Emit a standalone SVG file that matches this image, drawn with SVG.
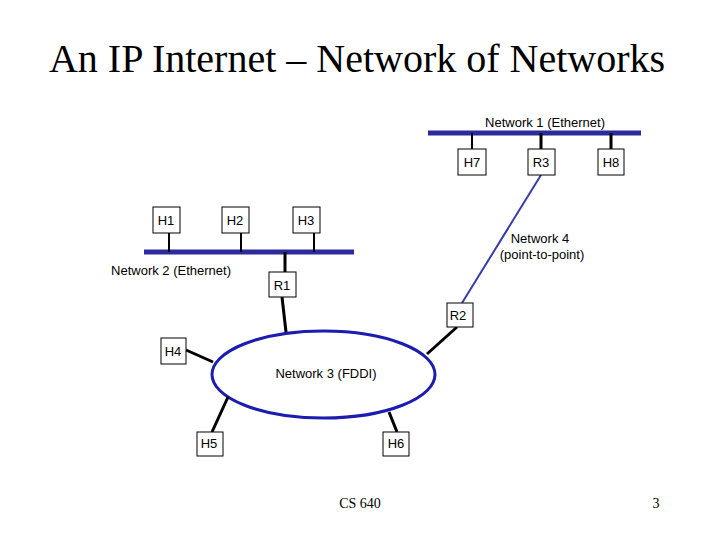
<svg xmlns="http://www.w3.org/2000/svg" width="720" height="540" viewBox="0 0 720 540">
<style>
.b{fill:#fff;stroke:#000;stroke-width:1}
.t{font-family:"Liberation Sans",Arial,sans-serif;font-size:13px;fill:#000;text-anchor:middle}
.k{stroke:#000;stroke-width:3}
.s{stroke:#000;stroke-width:2}
.n{stroke:#2b2b9c;stroke-width:5}
</style>
<rect width="720" height="540" fill="#fff"/>
<text x="357" y="72" font-family="Liberation Serif,serif" font-size="40" text-anchor="middle">An IP Internet – Network of Networks</text>
<g id="connectors">
<line class="n" x1="428" y1="133" x2="641" y2="133"/>
<line class="n" x1="144" y1="252" x2="354" y2="252"/>
<line x1="541" y1="175" x2="462" y2="303" stroke="#3a3aa8" stroke-width="2"/>
<ellipse cx="323.5" cy="374.5" rx="111.5" ry="43.5" fill="#fff" stroke="#1c1cb0" stroke-width="3"/>
<line class="s" x1="472" y1="133" x2="472" y2="149"/>
<line class="k" x1="541" y1="133" x2="541" y2="149"/>
<line class="k" x1="611" y1="133" x2="611" y2="149"/>
<line class="s" x1="169" y1="233" x2="169" y2="252"/>
<line class="s" x1="241" y1="233" x2="241" y2="252"/>
<line class="s" x1="314" y1="233" x2="314" y2="252"/>
<line class="k" x1="285" y1="252" x2="285" y2="272"/>
<line class="k" x1="282" y1="297" x2="286" y2="332"/>
<line class="k" x1="457" y1="327" x2="427" y2="354"/>
<line class="k" x1="186" y1="350" x2="213" y2="362"/>
<line class="k" x1="212" y1="432" x2="228" y2="397"/>
<line class="k" x1="397" y1="432" x2="389" y2="412"/>
</g>
<g id="labels">
<text class="t" x="545" y="127">Network 1 (Ethernet)</text>
<text class="t" x="171" y="275">Network 2 (Ethernet)</text>
<text class="t" x="540" y="243">Network 4</text>
<text class="t" x="542" y="259">(point-to-point)</text>
<text class="t" x="326" y="378">Network 3 (FDDI)</text>
</g>
<g id="H7"><rect class="b" x="458" y="149" width="28" height="26"/><text class="t" x="472" y="167">H7</text></g>
<g id="R3"><rect class="b" x="528" y="149" width="27" height="26"/><text class="t" x="541" y="167">R3</text></g>
<g id="H8"><rect class="b" x="598" y="149" width="26" height="26"/><text class="t" x="611" y="167">H8</text></g>
<g id="H1"><rect class="b" x="153" y="207" width="27" height="26"/><text class="t" x="166" y="225">H1</text></g>
<g id="H2"><rect class="b" x="222" y="207" width="27" height="26"/><text class="t" x="235" y="225">H2</text></g>
<g id="H3"><rect class="b" x="293" y="207" width="27" height="26"/><text class="t" x="306" y="225">H3</text></g>
<g id="R1"><rect class="b" x="269" y="272" width="27" height="25"/><text class="t" x="282" y="290">R1</text></g>
<g id="R2"><rect class="b" x="447" y="303" width="26" height="24"/><text class="t" x="458" y="320">R2</text></g>
<g id="H4"><rect class="b" x="161" y="338" width="25" height="26"/><text class="t" x="173" y="356">H4</text></g>
<g id="H5"><rect class="b" x="197" y="432" width="26" height="24"/><text class="t" x="209" y="448">H5</text></g>
<g id="H6"><rect class="b" x="383" y="432" width="26" height="24"/><text class="t" x="396" y="448">H6</text></g>
<text x="360" y="508" font-family="Liberation Serif,serif" font-size="14" text-anchor="middle">CS 640</text>
<text x="656" y="508" font-family="Liberation Serif,serif" font-size="14" text-anchor="middle">3</text>
</svg>
